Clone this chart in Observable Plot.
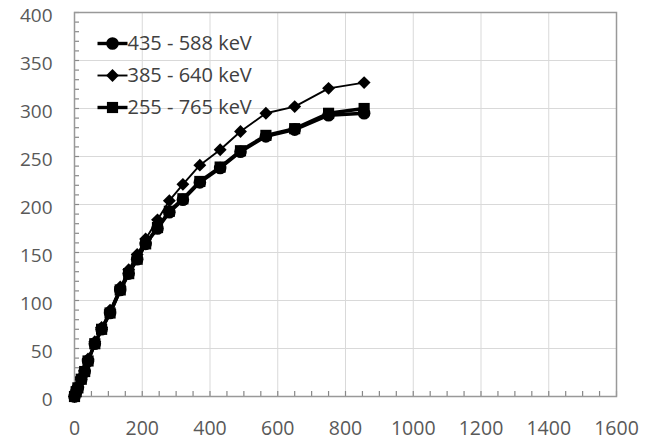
<!DOCTYPE html>
<html><head><meta charset="utf-8">
<script src="https://cdn.jsdelivr.net/npm/d3@7"></script>
<script src="https://cdn.jsdelivr.net/npm/@observablehq/plot@0.6"></script>
<style>body{margin:0;background:#fff;}</style>
</head><body><div id="chart"></div>
<script>
const xValues = [0, 5, 10, 20, 30, 40, 60, 80, 105, 135, 160, 185, 210, 245, 280, 320, 370, 430, 490, 565, 650, 750, 855];
const series435 = [0, 5, 9, 18, 26, 37, 55, 70, 87, 111, 128, 143, 159, 175, 192, 205, 223, 238, 255, 271, 278, 293, 295];
const series385 = [0, 5, 10, 20, 27, 39, 57, 72, 90, 114, 132, 148, 164, 184, 204, 221, 241, 257, 276, 295, 302, 321, 327];
const series255 = [0, 5, 9, 18, 26, 37, 55, 70, 87, 111, 128, 143, 159, 176, 193, 206, 224, 239, 256, 272, 279, 295, 300];
const seriesNames = ["435 - 588 keV", "385 - 640 keV", "255 - 765 keV"];
const xTicks = [0, 200, 400, 600, 800, 1000, 1200, 1400, 1600];
const yTicks = [0, 50, 100, 150, 200, 250, 300, 350, 400];

const W = 662, H = 444, mL = 74, mR = 46, mT = 12, mB = 48;
const fw = W - mL - mR, fh = H - mT - mB;
const xMinor = d3.range(0, 1601, 50);
const yMinor = d3.range(0, 401, 10);

const styles = [
  {vals: series435, symbol: "circle", r: 6.3, sw: 3.4},
  {vals: series385, symbol: "diamond2", r: 5.8, sw: 1.9},
  {vals: series255, symbol: "square", r: 6.3, sw: 3.4}
];
const legendLine = {draw(ctx) { ctx.moveTo(-15, 0); ctx.lineTo(15, 0); }};
const rowDy = [31, 63, 95];

const marks = [
  Plot.gridX(xTicks, {stroke: "#d9d9d9", strokeOpacity: 1, strokeWidth: 1}),
  Plot.gridY(yTicks, {stroke: "#d9d9d9", strokeOpacity: 1, strokeWidth: 1}),
  Plot.tickX(xMinor, {x: d => d, stroke: "#888", strokeWidth: 1.2, insetTop: fh - 5}),
  Plot.tickY(yMinor, {y: d => d, stroke: "#888", strokeWidth: 1.2, insetRight: fw - 5}),
  Plot.frame({stroke: "#999", strokeWidth: 1.5}),
  Plot.axisX(xTicks, {tickSize: 0, tickPadding: 25, fontSize: 19.5, color: "#595959", tickFormat: d => String(d)}),
  Plot.axisY(yTicks, {tickSize: 0, tickPadding: 22, fontSize: 19, dy: 3, color: "#595959", tickFormat: d => String(d)})
];

styles.forEach((s, i) => {
  const rows = xValues.map((x, j) => ({x, y: s.vals[j], name: seriesNames[i]}));
  marks.push(Plot.line(rows, {x: "x", y: "y", stroke: "black", strokeWidth: s.sw}));
  marks.push(Plot.dot(rows, {x: "x", y: "y", symbol: s.symbol, r: s.r, fill: "black", stroke: "none"}));
  marks.push(Plot.dot([seriesNames[i]], {frameAnchor: "top-left", dx: 38, dy: rowDy[i], symbol: legendLine, r: 5, stroke: "black", strokeWidth: s.sw, fill: "none"}));
  marks.push(Plot.dot([seriesNames[i]], {frameAnchor: "top-left", dx: 38, dy: rowDy[i], symbol: s.symbol, r: s.r, fill: "black", stroke: "none"}));
  marks.push(Plot.text([seriesNames[i]], {frameAnchor: "top-left", dx: 53, dy: rowDy[i], text: d => d, textAnchor: "start", lineAnchor: "middle", fontSize: 20, fill: "#404040"}));
});

const chart = Plot.plot({
  width: W, height: H,
  marginLeft: mL, marginRight: mR, marginTop: mT, marginBottom: mB,
  style: {fontFamily: "Open Sans", fontSize: "20px", background: "white", overflow: "visible"},
  x: {domain: [0, 1600], label: null},
  y: {domain: [0, 400], label: null},
  marks
});
document.getElementById("chart").appendChild(chart);
</script>
</body></html>
